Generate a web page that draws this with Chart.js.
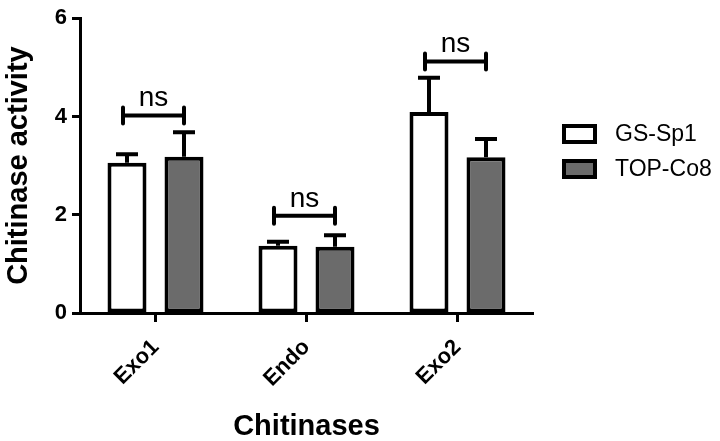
<!DOCTYPE html>
<html>
<head>
<meta charset="utf-8">
<script src="https://cdn.jsdelivr.net/npm/chart.js@4.4.1/dist/chart.umd.min.js"></script>
<style>
  html, body { margin: 0; padding: 0; background: #fff; }
  #wrap { width: 720px; height: 441px; }
</style>
</head>
<body>
<div id="wrap"><canvas id="chart"></canvas></div>
<script>
const categories = ["Exo1", "Endo", "Exo2"];
const seriesNames = ["GS-Sp1", "TOP-Co8"];
const gsValues = [3.06, 1.37, 4.09];
const gsErrors = [0.17, 0.08, 0.70];
const topValues = [3.18, 1.35, 3.17];
const topErrors = [0.50, 0.23, 0.37];
const nsLevels = [4.02, 1.98, 5.12];
const yTicks = [0, 2, 4, 6];

const FONT = "'Liberation Sans', Arial, sans-serif";

// upward-only error bars, Prism style
const errorBars = {
  id: "errorBars",
  afterDatasetsDraw(chart) {
    const ctx = chart.ctx;
    const y = chart.scales.y;
    chart.data.datasets.forEach((ds, di) => {
      const meta = chart.getDatasetMeta(di);
      meta.data.forEach((bar, i) => {
        const top = y.getPixelForValue(ds.data[i] + ds.errors[i]);
        ctx.save();
        ctx.strokeStyle = "#000";
        ctx.lineWidth = 4;
        ctx.beginPath();
        ctx.moveTo(bar.x, bar.y);
        ctx.lineTo(bar.x, top);
        ctx.moveTo(bar.x - 11, top);
        ctx.lineTo(bar.x + 11, top);
        ctx.stroke();
        ctx.restore();
      });
    });
  }
};

// "ns" brackets between the two bars of each group
const brackets = {
  id: "brackets",
  afterDatasetsDraw(chart) {
    const ctx = chart.ctx;
    const y = chart.scales.y;
    const m0 = chart.getDatasetMeta(0), m1 = chart.getDatasetMeta(1);
    nsLevels.forEach((lvl, i) => {
      const x0 = m0.data[i].x - 4, x1 = m1.data[i].x;
      const py = y.getPixelForValue(lvl);
      ctx.save();
      ctx.strokeStyle = "#000";
      ctx.lineWidth = 4;
      ctx.lineCap = "round";
      ctx.beginPath();
      ctx.moveTo(x0, py); ctx.lineTo(x1, py);
      ctx.moveTo(x0, py - 8); ctx.lineTo(x0, py + 8);
      ctx.moveTo(x1, py - 8); ctx.lineTo(x1, py + 8);
      ctx.stroke();
      ctx.fillStyle = "#000";
      ctx.font = "28px " + FONT;
      ctx.textAlign = "center";
      ctx.textBaseline = "alphabetic";
      ctx.fillText("ns", (x0 + x1) / 2, py - 9);
      ctx.restore();
    });
  }
};

// legend on the right, boxes with thick outline
const sideLegend = {
  id: "sideLegend",
  afterDraw(chart) {
    const ctx = chart.ctx;
    chart.data.datasets.forEach((ds, i) => {
      const top = 126 + i * 35;
      ctx.save();
      ctx.fillStyle = ds.backgroundColor;
      ctx.fillRect(564, top, 31, 16);
      ctx.strokeStyle = "#000";
      ctx.lineWidth = 4;
      ctx.strokeRect(564, top, 31, 16);
      ctx.fillStyle = "#000";
      ctx.font = "23px " + FONT;
      ctx.textAlign = "left";
      ctx.textBaseline = "middle";
      ctx.fillText(ds.label, 615, top + 9);
      ctx.restore();
    });
  }
};

new Chart(document.getElementById("chart"), {
  type: "bar",
  data: {
    labels: categories,
    datasets: [
      {
        label: seriesNames[0],
        data: gsValues,
        errors: gsErrors,
        backgroundColor: "#ffffff",
        borderColor: "#000000",
        borderWidth: 4,
        borderSkipped: false
      },
      {
        label: seriesNames[1],
        data: topValues,
        errors: topErrors,
        backgroundColor: "#6b6b6b",
        borderColor: "#000000",
        borderWidth: 4,
        borderSkipped: false
      }
    ]
  },
  options: {
    responsive: true,
    maintainAspectRatio: false,
    animation: false,
    categoryPercentage: 0.755,
    barPercentage: 0.684,
    layout: { padding: { top: 13, right: 187, bottom: 0, left: 0 } },
    plugins: {
      legend: { display: false },
      tooltip: { enabled: false }
    },
    scales: {
      x: {
        afterFit(scale) { scale.height = 128; },
        grid: {
          offset: false,
          drawOnChartArea: false,
          drawTicks: true,
          tickLength: 9,
          tickWidth: 3,
          tickColor: "#000"
        },
        border: { color: "#000", width: 3 },
        ticks: {
          color: "#000",
          font: { family: FONT, size: 22, weight: "bold", lineHeight: 1 },
          minRotation: 45,
          maxRotation: 45,
          padding: 14,
          labelOffset: 0
        },
        title: {
          display: true,
          text: "Chitinases",
          color: "#000",
          font: { family: FONT, size: 29, weight: "bold", lineHeight: 1 },
          padding: { top: 0, bottom: 0 }
        }
      },
      y: {
        afterFit(scale) { scale.width = 80; },
        min: yTicks[0],
        max: yTicks[yTicks.length - 1],
        grid: {
          drawOnChartArea: false,
          drawTicks: true,
          tickLength: 8,
          tickWidth: 3,
          tickColor: "#000"
        },
        border: { color: "#000", width: 3 },
        ticks: {
          stepSize: yTicks[1] - yTicks[0],
          color: "#000",
          padding: 5,
          font: { family: FONT, size: 22, weight: "bold" }
        },
        title: {
          display: true,
          text: "Chitinase activity",
          color: "#000",
          font: { family: FONT, size: 29, weight: "bold", lineHeight: 1 },
          padding: { top: 4, bottom: 0 }
        }
      }
    }
  },
  plugins: [errorBars, brackets, sideLegend]
});
</script>
</body>
</html>
